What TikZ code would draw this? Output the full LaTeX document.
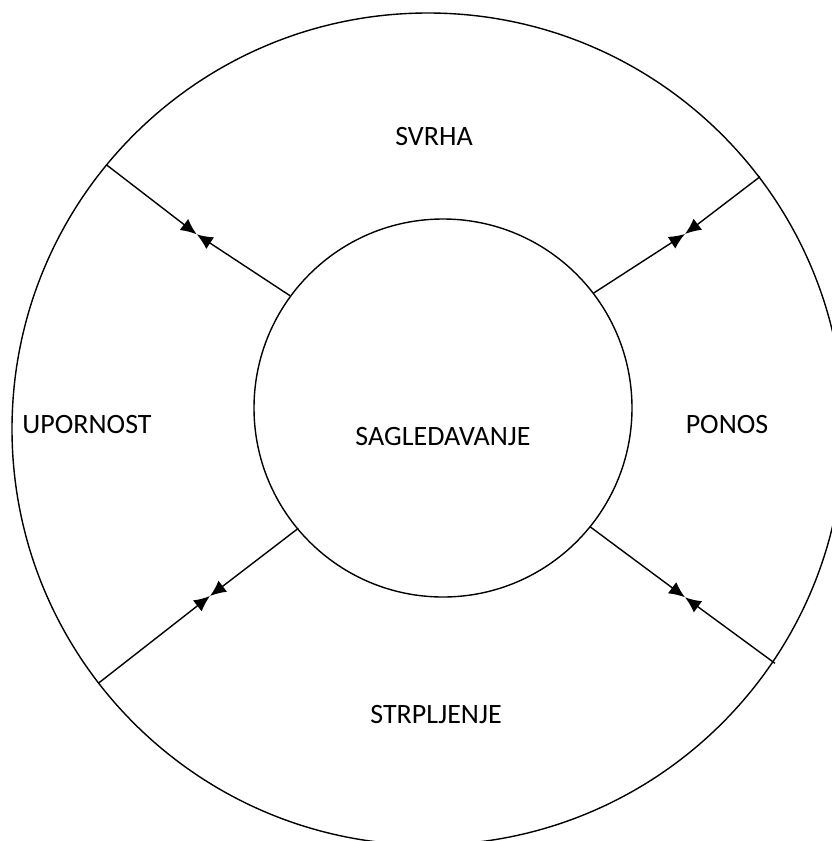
\documentclass[tikz,border=0pt]{standalone}
\usepackage{fontspec}
\setmainfont{Carlito}
\usetikzlibrary{arrows.meta}
\begin{document}
\begin{tikzpicture}[x=1pt,y=-1pt,
  ring/.style={draw=black,line width=1.4pt,circle,inner sep=0pt},
  lbl/.style={font=\fontsize{28}{32}\selectfont,inner sep=0pt},
  arr/.style={line width=1.4pt,-{Latex[length=16pt,width=14pt]}}]
\useasboundingbox (0,0) rectangle (832,841);
\node[ring,minimum size=832pt] (outer) at (428,429) {};
\node[ring,minimum size=378pt] (inner) at (443,408) {};
\node[lbl] (svrha) at (434,137) {SVRHA};
\node[lbl] (upornost) at (87,425) {UPORNOST};
\node[lbl] (ponos) at (727,425) {PONOS};
\node[lbl] (strp) at (436,715) {STRPLJENJE};
\node[lbl] (sagl) at (443,437) {SAGLEDAVANJE};
% upper left
\coordinate (ulo) at (106.7,165);
\coordinate (ulm) at (196.7,234.3);
\coordinate (uli) at (290,295.7);
% upper right
\coordinate (uro) at (760,176.7);
\coordinate (urm) at (685,234);
\coordinate (uri) at (593.3,293.3);
% lower right
\coordinate (lri) at (590,526.7);
\coordinate (lrm) at (685,597.3);
\coordinate (lro) at (775,663.3);
% lower left
\coordinate (lli) at (298.3,528.3);
\coordinate (llm) at (210,596);
\coordinate (llo) at (98.3,683.3);
\draw[arr] (ulo) -- (ulm);
\draw[arr] (uli) -- (ulm);
\draw[arr] (uro) -- (urm);
\draw[arr] (uri) -- (urm);
\draw[arr] (lro) -- (lrm);
\draw[arr] (lri) -- (lrm);
\draw[arr] (llo) -- (llm);
\draw[arr] (lli) -- (llm);
\end{tikzpicture}
\end{document}
